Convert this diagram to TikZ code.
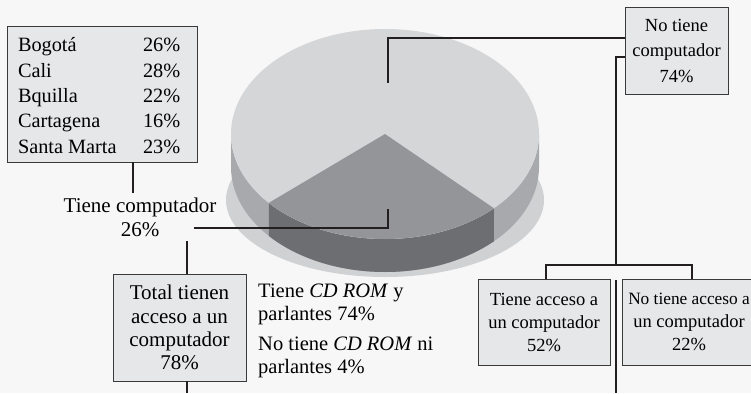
\documentclass[tikz,border=0pt]{standalone}
\usepackage{fontspec}
\setmainfont{Liberation Serif}
\usetikzlibrary{calc}
\definecolor{bgc}{HTML}{F7F7F7}
\definecolor{boxfill}{HTML}{E6E7E8}
\definecolor{boxline}{HTML}{3A3A3A}
\definecolor{linec}{HTML}{231F20}
\definecolor{toplight}{HTML}{D5D6D8}
\definecolor{shadowc}{HTML}{D0D1D3}
\definecolor{sidelight}{HTML}{A7A9AC}
\definecolor{wedgedark}{HTML}{939598}
\definecolor{walldark}{HTML}{6D6E71}
\newcommand\fBig{\fontsize{21}{23.3}\selectfont}
\newcommand\fMid{\fontsize{20.5}{23.3}\selectfont}
\newcommand\fCity{\fontsize{20.3}{25.3}\selectfont}
\newcommand\fNoc{\fontsize{18.5}{25.5}\selectfont}
\newcommand\fAcc{\fontsize{18.5}{23}\selectfont}
\begin{document}
\begin{tikzpicture}[x=1pt,y=1pt,
  infobox/.style={draw=boxline,fill=boxfill,line width=0.8pt,inner sep=0pt,align=center},
  conn/.style={draw=linec,line width=1.6pt},
  lbl/.style={inner sep=0pt,font=\fBig}]
\useasboundingbox (0,0) rectangle (751,-393);
\fill[bgc] (0,0) rectangle (751,-393);
\clip (0,0) rectangle (751,-393);

% pie
\coordinate (C) at (385,-134);
\fill[shadowc] (385,-200) ellipse[x radius=159pt,y radius=77pt];
\fill[sidelight] ([shift={(C)}]180:154pt and 105pt) arc[start angle=180,end angle=360,x radius=154pt,y radius=105pt]
  -- ++(0,-33) arc[start angle=360,end angle=180,x radius=154pt,y radius=105pt] -- cycle;
\fill[walldark] ([shift={(C)}]221:154pt and 105pt) arc[start angle=221,end angle=315,x radius=154pt,y radius=105pt]
  -- ++(0,-33) arc[start angle=315,end angle=221,x radius=154pt,y radius=105pt] -- cycle;
\fill[toplight] (C) ellipse[x radius=154pt,y radius=105pt];
\fill[wedgedark] (C) -- ([shift={(C)}]221:154pt and 105pt) arc[start angle=221,end angle=315,x radius=154pt,y radius=105pt] -- cycle;

% boxes
\node[infobox,minimum width=190pt,minimum height=136pt,font=\fCity] (city) at (102,-94)
  {\begin{tabular}{@{\hspace{11pt}}p{125pt}@{}p{54pt}@{}}
   \noalign{\vskip 7pt}
   Bogotá & 26\% \\ Cali & 28\% \\ Bquilla & 22\% \\ Cartagena & 16\% \\ Santa Marta & 23\%
   \end{tabular}};
\node[infobox,minimum width=103pt,minimum height=87pt,font=\fNoc] (nocomp) at (676.5,-50.5)
  {No tiene\\computador\\74\%};
\node[infobox,minimum width=133pt,minimum height=107pt,font=\fBig] (total) at (179.5,-327.5)
  {Total tienen\\acceso a un\\computador\\78\%};
\node[infobox,minimum width=132pt,minimum height=86pt,font=\fAcc] (acceso) at (544,-322)
  {Tiene acceso a\\un computador\\52\%};
\node[infobox,minimum width=134pt,minimum height=86pt,font=\fAcc] (noacceso) at (689,-322)
  {{\fontsize{17.3}{23}\selectfont No tiene acceso a}\\un computador\\22\%};

% free labels
\node[lbl,align=center,anchor=north] (tiene) at (140,-198) {Tiene computador\\26\%};
\node[lbl,font=\fMid,align=left,anchor=north west] (cdrom) at (258,-283.3) {Tiene \textit{CD ROM} y\\parlantes 74\%};
\node[lbl,font=\fMid,align=left,anchor=north west] (nocdrom) at (258,-336.3) {No tiene \textit{CD ROM} ni\\parlantes 4\%};

% connector points
\coordinate (a1) at (133,-193);
\coordinate (a2) at (194,-228);
\coordinate (a3) at (388,-209);
\coordinate (b1) at (187,-241);
\coordinate (b2) at (187,-393);
\coordinate (c1) at (388,-83);
\coordinate (d1) at (616,-265);
\coordinate (ja) at (546,-265);
\coordinate (jb) at (692,-265);
\coordinate (e1) at (616,-280);
\coordinate (e2) at (616,-393);

% connectors
\draw[conn] (city.south -| a1) -- (a1);
\draw[conn] (a2) -| (a3);
\draw[conn] (b1) -- (b1 |- total.north);
\draw[conn] (total.south -| b2) -- (b2);
\draw[conn] (c1) |- ([yshift=12.5pt]nocomp.west);
\draw[conn] ([yshift=-6.5pt]nocomp.west) -| (d1);
\draw[conn] (acceso.north -| ja) -- (ja) -- (jb) -- (noacceso.north -| jb);
\draw[conn] (e1) -- (e2);
\end{tikzpicture}
\end{document}
